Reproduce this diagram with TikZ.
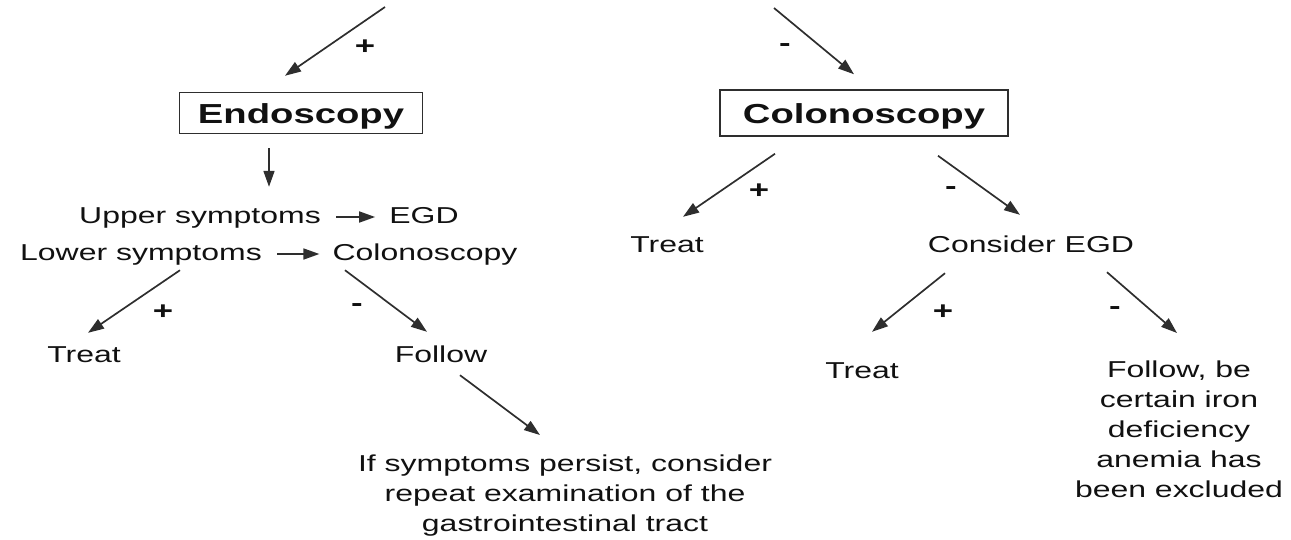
\documentclass[tikz,border=0pt]{standalone}
\usepackage{fontspec}
\setmainfont{Liberation Sans}[FakeStretch=1.39]
\usetikzlibrary{arrows.meta,calc}
\definecolor{ink}{HTML}{111111}
\definecolor{wire}{HTML}{2E2E2E}

\begin{document}
\begin{tikzpicture}[x=1pt,y=-1pt,
  font=\fontsize{23}{30}\selectfont, text=ink,
  flow/.style={-{Triangle[length=16pt,width=11pt]},draw=wire,line width=1.7pt},
  box/.style={draw=wire,line width=1.5pt,inner sep=0pt,text height=20pt,text depth=0pt,
    font=\bfseries\fontsize{27.5}{32}\selectfont},
  txt/.style={anchor=base,inner sep=0pt,text height=17pt,text depth=5pt},
  para/.style={anchor=north,inner sep=0pt,align=center},
  sign/.style={inner sep=0pt,font=\bfseries\fontsize{25}{26}\selectfont}
]
\useasboundingbox (0,0) rectangle (1291,539);
% Two entry branches from above the picture.
\coordinate (srcL) at (385,7);
\coordinate (srcR) at (774,8);
\node[box,minimum width=243pt,minimum height=41pt] (endo) at (301,113) {Endoscopy};
\node[box,minimum width=288pt,minimum height=46pt] (colo) at (864,113) {Colonoscopy};
\draw[flow] (srcL) -- ($(endo.north)+(-16,-16)$);
\draw[flow] (srcR) -- ($(colo.north)+(-10,-15)$);
\node[sign] (plusA) at (365,47) {+};
\node[sign] (minusA) at (785,48) {-};
% Endoscopy side.
\node[txt] (upper) at (200,223) {Upper symptoms};
\node[txt] (egd) at (424,223) {EGD};
\node[txt] (lower) at (141,260) {Lower symptoms};
\node[txt] (colo2) at (425,260) {Colonoscopy};
\draw[flow] ($(endo.south)+(-32,14)$) -- ($(upper.north)+(69,-19)$);
\draw[flow,shorten <=15pt,shorten >=14pt] (upper) -- (egd);
\draw[flow,shorten <=15pt,shorten >=13pt] (lower) -- (colo2);
\node[txt] (treatA) at (84,362) {Treat};
\node[txt] (followA) at (441,362) {Follow};
\draw[flow] ($(lower.south)+(39,5)$) -- ($(treatA.north)+(4,-12)$);
\draw[flow] ($(colo2.south)+(-80,5)$) -- ($(followA.north)+(-14,-13)$);
\node[sign] (plusB) at (163,312) {+};
\node[sign] (minusB) at (357,308) {-};
\node[para] (persist) at (565,455)
  {If symptoms persist, consider\\repeat examination of the\\gastrointestinal tract};
\draw[flow] ($(followA.south)+(19,8)$) -- ($(persist.north)+(-25,-20)$);
% Colonoscopy side.
\node[txt] (treatB) at (667,252) {Treat};
\node[txt] (egdB) at (1031,252) {Consider EGD};
\draw[flow] ($(colo.south)+(-89,17)$) -- ($(treatB.north)+(16,-18)$);
\draw[flow] ($(colo.south)+(74,19)$) -- ($(egdB.north)+(-11,-20)$);
\node[sign] (plusC) at (759,191) {+};
\node[sign] (minusC) at (951,191) {-};
\node[txt] (treatC) at (862,378) {Treat};
\node[para] (followC) at (1179,361)
  {Follow, be\\certain iron\\deficiency\\anemia has\\been excluded};
\draw[flow] ($(egdB.south)+(-86,16)$) -- ($(treatC.north)+(10,-29)$);
\draw[flow] ($(egdB.south)+(76,15)$) -- ($(followC.north)+(-2,-28)$);
\node[sign] (plusD) at (943,312) {+};
\node[sign] (minusD) at (1115,311) {-};
\end{tikzpicture}
\end{document}
